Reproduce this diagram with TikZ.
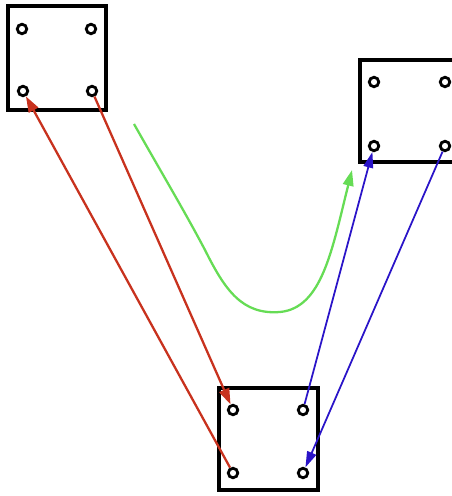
\documentclass[tikz,border=0pt]{standalone}
\usetikzlibrary{arrows.meta,positioning,calc}
\definecolor{Ink}{HTML}{000000}
\definecolor{Brick}{HTML}{C8321E}
\definecolor{Indigo}{HTML}{2A14C8}
\definecolor{Leaf}{HTML}{66DC55}
\tikzset{
  pinhole/.style={circle,draw=Ink,line width=1.6pt,minimum size=5.4pt,inner sep=0pt},
  boardbox/.style={draw=Ink,line width=1.8pt},
  redline/.style={-{Triangle[length=9pt,width=6pt]},draw=Brick,line width=1.3pt},
  blueline/.style={-{Triangle[length=9pt,width=5.5pt]},draw=Indigo,line width=1pt},
  greenline/.style={-{Triangle[length=9pt,width=6pt]},draw=Leaf,line width=1.3pt}
}

\begin{document}
\begin{tikzpicture}[x=0.02cm,y=-0.02cm]
  \useasboundingbox (0,0) rectangle (452,496);
  \clip (0,0) rectangle (452,496);
  % boards
  \draw[boardbox] (8,6) rectangle (106,110);
  \draw[boardbox] (360,60) rectangle (470,162);
  \draw[boardbox] (219,388) rectangle (318,490);
  % pins, top left board
  \node[pinhole] (tl1) at (22,29) {};
  \node[pinhole] (tl2) at (91,29) {};
  \node[pinhole] (tl3) at (23,91) {};
  \node[pinhole] (tl4) at (92,91) {};
  % pins, right board
  \node[pinhole] (rt1) at (374,82) {};
  \node[pinhole] (rt2) at (445,82) {};
  \node[pinhole] (rt3) at (374,146) {};
  \node[pinhole] (rt4) at (445,146) {};
  % pins, bottom board
  \node[pinhole] (bt1) at (233,410) {};
  \node[pinhole] (bt2) at (303,410) {};
  \node[pinhole] (bt3) at (233,473) {};
  \node[pinhole] (bt4) at (303,473) {};
  % wires
  \draw[redline] (bt3) -- (tl3);
  \draw[redline] (tl4) -- (bt1);
  \draw[blueline] (bt2) -- (rt3);
  \draw[blueline] (rt4) -- (bt4);
  % swap hint
  \coordinate (gstart) at (134,124);
  \coordinate (gend) at (352,170);
  \draw[greenline] (gstart) .. controls (160,170) and (185,212) .. (205,250)
    .. controls (225,290) and (242,315) .. (280,312)
    .. controls (322,308) and (332,250) .. (gend);
\end{tikzpicture}
\end{document}
